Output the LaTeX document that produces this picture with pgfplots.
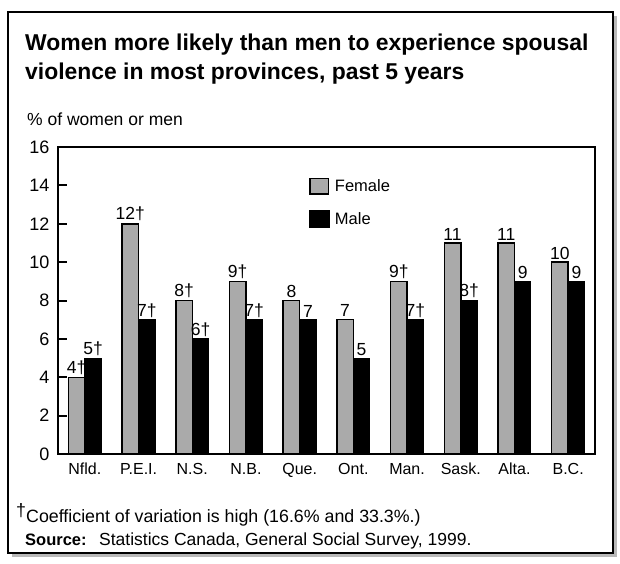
\documentclass[border=0pt]{standalone}
\usepackage{fontspec}
\setmainfont{Liberation Sans}
\usepackage{pgfplots}
\pgfplotsset{compat=1.18}
\definecolor{femgrey}{RGB}{170,170,170}
\newcommand{\sz}{\fontsize{16}{19}\selectfont}
\newcommand{\szb}{\fontsize{17.5}{21}\selectfont}

\begin{document}
\begin{tikzpicture}
\path[use as bounding box] (0,0) rectangle (620pt,-563pt);
% frame with shadow
\fill[gray!55] (12pt,-16pt) rectangle (617pt,-557pt);
\draw[line width=2pt, fill=white] (8pt,-12pt) rectangle (613pt,-553pt);

\node[anchor=base west, inner sep=0pt, font=\fontsize{22.9}{27}\selectfont\bfseries] at (25pt,-50pt)
  {Women more likely than men to experience spousal};
\node[anchor=base west, inner sep=0pt, font=\fontsize{22.9}{27}\selectfont\bfseries] at (25pt,-79pt)
  {violence in most provinces, past 5 years};
\node[anchor=base west, inner sep=0pt, font=\szb] at (27pt,-125pt) {\% of women or men};

\begin{axis}[
    at={(58pt,-454pt)}, anchor=south west,
    scale only axis, width=537pt, height=307pt,
    ybar=0pt, bar width=16.5pt,
    xmin=-0.5, xmax=9.5, ymin=0, ymax=16,
    ytick={0,2,...,16},
    xtick={0,...,9},
    xticklabels={Nfld.,P.E.I.,N.S.,N.B.,Que.,Ont.,Man.,Sask.,Alta.,B.C.},
    x tick style={draw=none},
    ytick pos=left, tick align=inside, major tick length=9pt,
    y tick style={line width=2pt, black},
    axis line style={line width=2pt},
    tick label style={font=\sz, black},
    xticklabel style={anchor=base, yshift=-20pt},
    yticklabel style={font=\fontsize{18}{21}\selectfont, xshift=-5pt},
    /pgf/number format/assume math mode=true,
    point meta=explicit symbolic,
    nodes near coords,
    every node near coord/.append style={font=\szb, inner sep=2pt},
    legend style={draw=none, fill=none, at={(0.467,0.90)}, anchor=north west,
        font=\fontsize{16.5}{19}\selectfont, row sep=15pt, inner sep=0pt,
        nodes={inner sep=1pt, anchor=west}},
]
\addplot[fill=femgrey, draw=black, line width=1.5pt,
    legend image code/.code={\draw[fill=femgrey, draw=black, line width=1.5pt] (0.75pt,-7.75pt) rectangle (19.25pt,7.75pt);}]
  coordinates {(0,4) [4†] (1,12) [12†] (2,8) [8†] (3,9) [9†] (4,8) [8]
               (5,7) [7] (6,9) [9†] (7,11) [11] (8,11) [11] (9,10) [10]};
\addlegendentry{\hspace{4pt}Female}
\addplot[fill=black, draw=black, line width=1pt,
    legend image code/.code={\fill[black] (0pt,-8.5pt) rectangle (20pt,8.5pt);}]
  coordinates {(0,5) [5†] (1,7) [7†] (2,6) [6†] (3,7) [7†] (4,7) [7]
               (5,5) [5] (6,7) [7†] (7,8) [8†] (8,9) [9] (9,9) [9]};
\addlegendentry{\hspace{4pt}Male}
\end{axis}

\node[anchor=base west, inner sep=0pt, font=\fontsize{17.8}{21}\selectfont] at (16pt,-516pt) {†};
\node[anchor=base west, inner sep=0pt, font=\fontsize{17.8}{21}\selectfont] at (26pt,-522pt)
  {Coefficient of variation is high (16.6\% and 33.3\%.)};
\node[anchor=base west, inner sep=0pt, font=\fontsize{16.5}{21}\selectfont\bfseries] at (25pt,-545pt)
  {Source:};
\node[anchor=base west, inner sep=0pt, font=\fontsize{17.5}{21}\selectfont] at (99pt,-545pt)
  {Statistics Canada, General Social Survey, 1999.};
\end{tikzpicture}
\end{document}
